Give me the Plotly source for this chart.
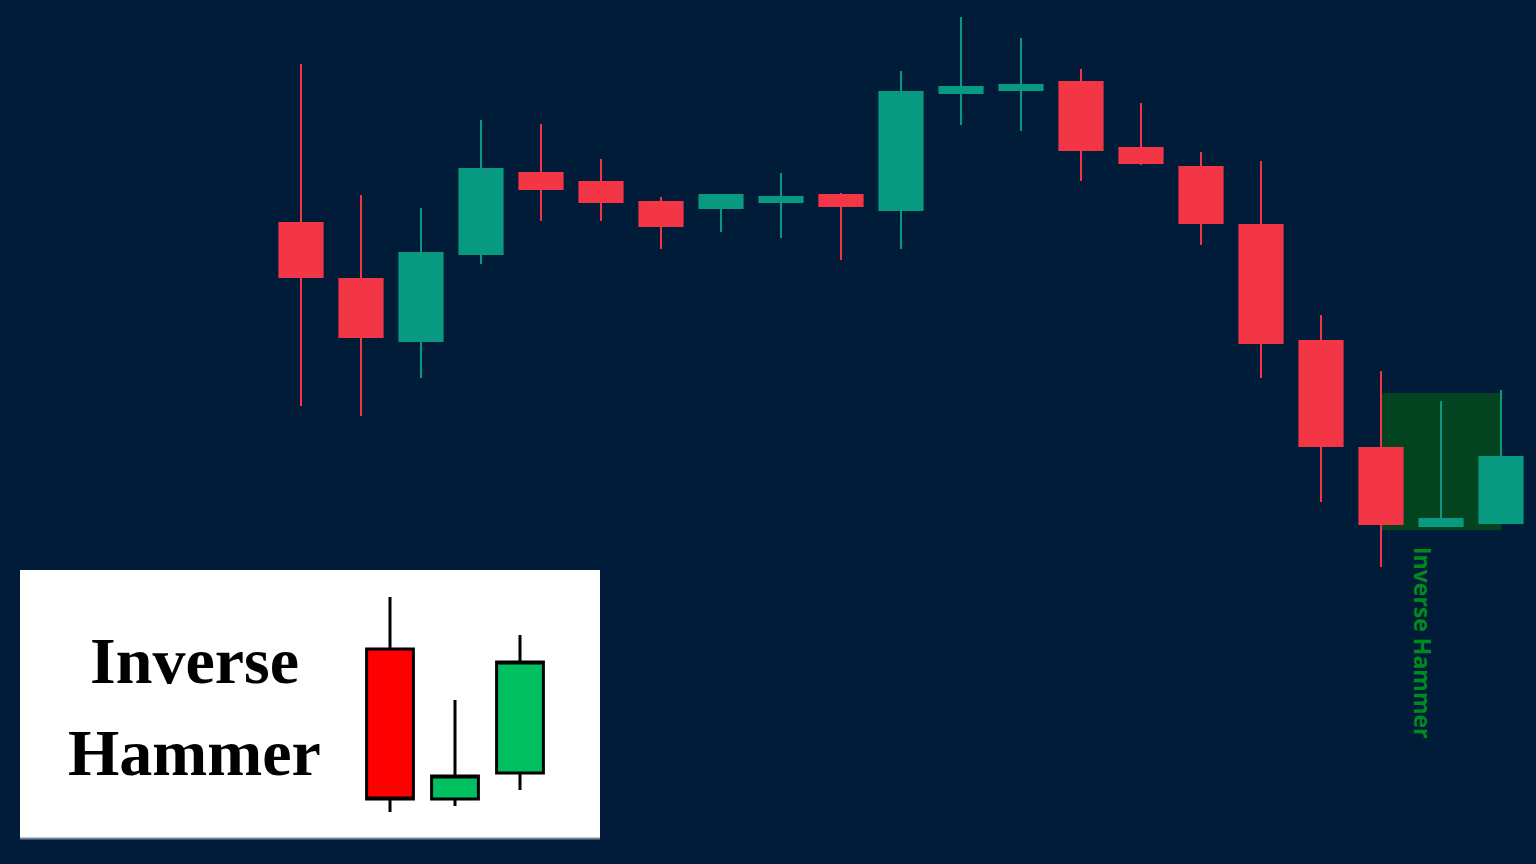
import plotly.graph_objects as go

# ---- main chart data (price units) ----
candle_idx = list(range(21))
opens  = [641, 585, 523, 610, 691, 682, 662, 656, 662, 669, 654, 771, 774, 782, 716, 697, 639, 523, 416, 338, 341]
highs  = [800, 669, 656, 744, 740, 705, 667, 669, 691, 671, 793, 847, 826, 795, 761, 712, 703, 549, 493, 463, 474]
lows   = [458, 448, 486, 600, 643, 643, 615, 632, 626, 604, 615, 739, 733, 683, 699, 619, 486, 362, 297, 338, 341]
closes = [587, 527, 611, 695, 675, 662, 638, 669, 667, 658, 772, 777, 779, 714, 701, 641, 521, 418, 340, 345, 407]

# pattern highlight (candle index span and price span)
pattern_start, pattern_end = 18, 20
pattern_low, pattern_high = 334, 471
pattern_label = "Inverse Hammer"

# ---- inset illustration data ----
inset_idx = [0, 1, 2]
inset_open  = [215, 65, 91]
inset_high  = [267, 164, 229]
inset_low   = [52, 58, 74]
inset_close = [65, 88, 202]
inset_title = ["Inverse", "Hammer"]

BG = "#011c38"
RED = "#f23645"
GREEN = "#089981"

W, H = 1536, 864

fig = go.Figure()

fig.add_trace(go.Candlestick(
    x=candle_idx, open=opens, high=highs, low=lows, close=closes,
    increasing=dict(line=dict(color=GREEN, width=2), fillcolor=GREEN),
    decreasing=dict(line=dict(color=RED, width=2), fillcolor=RED),
    whiskerwidth=0, hoverinfo="skip", showlegend=False,
    xaxis="x", yaxis="y",
))

fig.add_trace(go.Candlestick(
    x=inset_idx, open=inset_open, high=inset_high, low=inset_low, close=inset_close,
    increasing=dict(line=dict(color="black", width=3), fillcolor="#00c060"),
    decreasing=dict(line=dict(color="black", width=3), fillcolor="#ff0000"),
    whiskerwidth=0, hoverinfo="skip", showlegend=False,
    xaxis="x2", yaxis="y2",
))

ax_common = dict(visible=False, showgrid=False, zeroline=False, fixedrange=True)

fig.update_layout(
    width=W, height=H,
    margin=dict(l=0, r=0, t=0, b=0),
    paper_bgcolor=BG,
    plot_bgcolor="rgba(0,0,0,0)",
    boxgap=0.28,
    boxgroupgap=0,
    xaxis=dict(domain=[0, 1], range=[-301 / 60, (W - 301) / 60],
               rangeslider=dict(visible=False), **ax_common),
    yaxis=dict(domain=[0, 1], range=[0, H], **ax_common),
    xaxis2=dict(domain=[20 / W, 600 / W], range=[(20 - 390) / 65, (600 - 390) / 65],
                anchor="y2", rangeslider=dict(visible=False), **ax_common),
    yaxis2=dict(domain=[25 / H, 294 / H], range=[25, 294], anchor="x2", **ax_common),
    shapes=[
        # white inset background
        dict(type="rect", xref="paper", yref="paper",
             x0=20 / W, x1=600 / W, y0=25 / H, y1=294 / H,
             fillcolor="white", line=dict(width=0), layer="below"),
        dict(type="line", xref="paper", yref="paper",
             x0=20 / W, x1=600 / W, y0=25.5 / H, y1=25.5 / H,
             line=dict(color="#7d8a96", width=2), layer="below"),
        # pattern highlight
        dict(type="rect", xref="x", yref="y",
             x0=pattern_start, x1=pattern_end, y0=pattern_low, y1=pattern_high,
             fillcolor="#03431f", line=dict(width=0), layer="below"),
    ],
    annotations=[
        dict(text=pattern_label, xref="paper", yref="paper",
             x=1423 / W, y=(H - 643) / H, textangle=90, showarrow=False,
             xanchor="center", yanchor="middle",
             font=dict(family="Open Sans", size=23, color="#008a1e", weight="bold")),
        dict(text="<b>" + inset_title[0] + "</b>", xref="paper", yref="paper",
             x=194 / W, y=(H - 660) / H, showarrow=False,
             xanchor="center", yanchor="middle",
             font=dict(family="Liberation Serif", size=66, color="black")),
        dict(text="<b>" + inset_title[1] + "</b>", xref="paper", yref="paper",
             x=194 / W, y=(H - 752) / H, showarrow=False,
             xanchor="center", yanchor="middle",
             font=dict(family="Liberation Serif", size=66, color="black")),
    ],
)

fig.write_html("out.html", config={"displayModeBar": False},
               post_script="document.body.style.margin='0';document.body.style.overflow='hidden';")
